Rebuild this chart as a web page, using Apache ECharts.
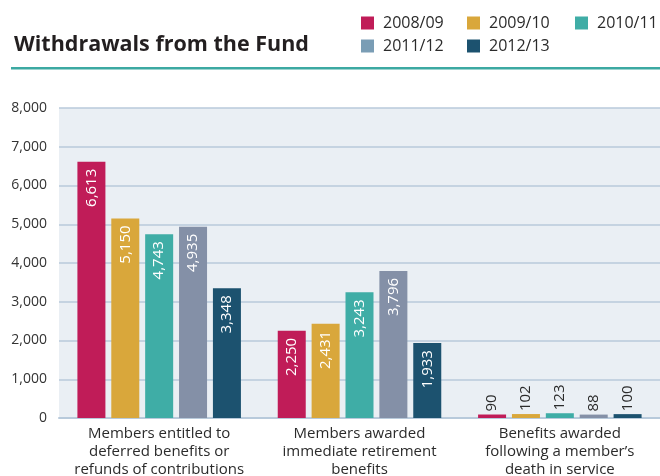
<!DOCTYPE html>
<html>
<head>
<meta charset="utf-8">
<style>
  html, body { margin: 0; padding: 0; background: #ffffff; }
  #chart { width: 660px; height: 476px; }
</style>
<script src="https://cdn.jsdelivr.net/npm/echarts@6/dist/echarts.min.js"></script>
</head>
<body>
<div id="chart"></div>
<script>
// Withdrawal categories (x axis)
const categories = [
  'Members entitled to\ndeferred benefits or\nrefunds of contributions',
  'Members awarded\nimmediate retirement\nbenefits',
  'Benefits awarded\nfollowing a member\u2019s\ndeath in service'
];

// Years shown in the legend
const years = ['2008/09', '2009/10', '2010/11', '2011/12', '2012/13'];

// Number of withdrawals per year, one value per category
const y2008 = [6613, 2250, 90];
const y2009 = [5150, 2431, 102];
const y2010 = [4743, 3243, 123];
const y2011 = [4935, 3796, 88];
const y2012 = [3348, 1933, 100];

// Value axis ticks
const yMin = 0;
const yMax = 8000;
const yStep = 1000;

const seriesValues = [y2008, y2009, y2010, y2011, y2012];
const barColors = ['#c01c58', '#d9a73b', '#3fada6', '#8490a7', '#1c526f'];
const swatchColors = ['#c01c58', '#d9a73b', '#3fada6', '#7a9db5', '#1c526f'];

const FONT = '"Open Sans", "Noto Sans", sans-serif';

const fmt = v => v.toLocaleString('en-US');

// Tall bars carry their value inside the top; short bars carry it above
function buildData(values) {
  return values.map(v => {
    if (v >= 1000) {
      return {
        value: v,
        label: {
          position: 'insideTop', rotate: 90, align: 'right', verticalAlign: 'middle',
          distance: 7, color: '#ffffff'
        }
      };
    }
    return {
      value: v,
      label: {
        position: 'top', rotate: 90, align: 'left', verticalAlign: 'middle',
        distance: 3, color: '#2b2b2b'
      }
    };
  });
}

const series = years.map((name, i) => ({
  name: name,
  type: 'bar',
  barWidth: 28,
  barGap: '21%',
  itemStyle: { color: barColors[i] },
  label: {
    show: true,
    fontFamily: FONT,
    fontSize: 15,
    formatter: p => fmt(p.value)
  },
  data: buildData(seriesValues[i])
}));

// One legend block per year, laid out in two rows
const legendSlots = [
  { left: 361, top: 15 },
  { left: 467, top: 15 },
  { left: 575, top: 15 },
  { left: 361, top: 38 },
  { left: 467, top: 38 }
];

const legends = years.map((name, i) => ({
  data: [{ name: name, itemStyle: { color: swatchColors[i] } }],
  left: legendSlots[i].left,
  top: legendSlots[i].top,
  padding: 0,
  icon: 'rect',
  itemWidth: 13,
  itemHeight: 13,
  selectedMode: false,
  textStyle: {
    fontFamily: FONT, fontSize: 16, color: '#2b2b2b',
    lineHeight: 14, padding: [0, 0, 0, 4]
  }
}));

const chart = echarts.init(document.getElementById('chart'), null, { renderer: 'canvas' });

chart.setOption({
  animation: false,
  backgroundColor: '#ffffff',
  title: {
    text: 'Withdrawals from the Fund',
    left: 9,
    top: 29,
    textStyle: { fontFamily: FONT, fontSize: 21.5, fontWeight: 'bold', color: '#231f20' }
  },
  legend: legends,
  graphic: [
    {
      type: 'rect',
      shape: { x: 11, y: 67, width: 660, height: 2.5 },
      style: { fill: '#3ca9a2' },
      silent: true
    }
  ],
  grid: {
    left: 59, right: 0, top: 108, bottom: 58,
    show: true, backgroundColor: '#eaeff4', borderWidth: 0,
    containLabel: false,
    outerBoundsMode: 'none'
  },
  xAxis: {
    type: 'category',
    data: categories,
    axisLine: { show: true, lineStyle: { color: '#b8cadb', width: 2 } },
    axisTick: { show: false },
    axisLabel: {
      fontFamily: FONT, fontSize: 15, color: '#2b2b2b', lineHeight: 18,
      margin: 7, interval: 0
    }
  },
  yAxis: {
    type: 'value',
    min: yMin, max: yMax, interval: yStep,
    axisLine: { show: false },
    axisTick: { show: false },
    splitLine: { lineStyle: { color: '#b8cadb', width: 1.5 } },
    axisLabel: {
      fontFamily: FONT, fontSize: 14, color: '#333333', margin: 12,
      formatter: v => fmt(v)
    }
  },
  series: series
});
</script>
</body>
</html>
